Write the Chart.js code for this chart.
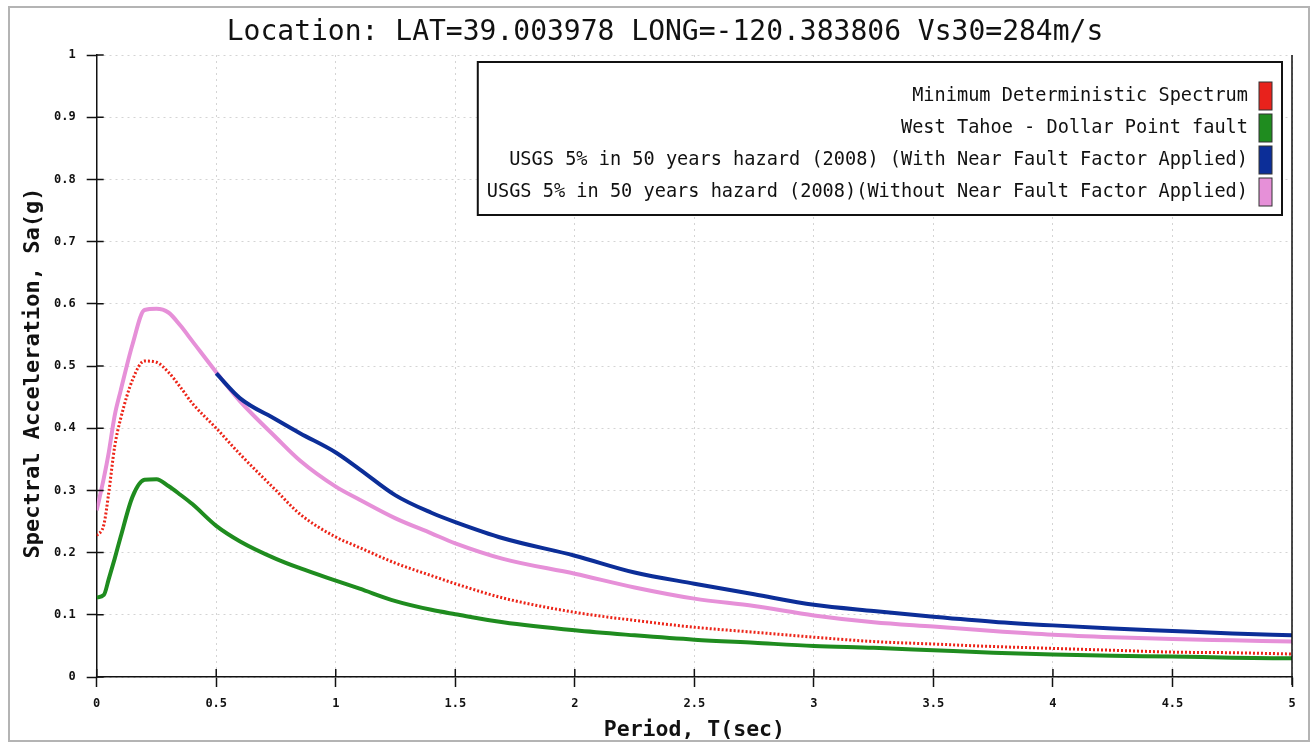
<!DOCTYPE html>
<html>
<head>
<meta charset="utf-8">
<title>Spectral acceleration</title>
<script src="https://cdn.jsdelivr.net/npm/chart.js@4.4.1/dist/chart.umd.min.js"></script>
<style>
  html, body { margin:0; padding:0; background:#fff; }
  #wrap { position:relative; width:1315px; height:747px; }
  #frame { position:absolute; left:8px; top:6px; width:1298px; height:732px; border:2px solid #b4b4b4; pointer-events:none; }
</style>
</head>
<body>
<div id="wrap">
  <canvas id="chart" width="1315" height="747"></canvas>
  <div id="frame"></div>
</div>
<script>
const TITLE = 'Location: LAT=39.003978 LONG=-120.383806 Vs30=284m/s';
const X_TITLE = 'Period, T(sec)';
const Y_TITLE = 'Spectral Acceleration, Sa(g)';

const PERIODS = [0, 0.03, 0.05, 0.075, 0.1, 0.15, 0.2, 0.25, 0.3, 0.35, 0.4, 0.5, 0.6, 0.75, 0.85, 1.0, 1.1, 1.25, 1.4, 1.5, 1.7, 2.0, 2.25, 2.5, 2.75, 3.0, 3.25, 3.5, 3.75, 4.0, 4.25, 4.5, 4.75, 5.0];

const MIN_DETERMINISTIC = [0.227, 0.245, 0.295, 0.37, 0.415, 0.478, 0.508, 0.506, 0.49, 0.466, 0.44, 0.40, 0.358, 0.30, 0.262, 0.225, 0.208, 0.183, 0.163, 0.15, 0.127, 0.104, 0.091, 0.08, 0.072, 0.064, 0.057, 0.053, 0.049, 0.046, 0.043, 0.04, 0.039, 0.037];
const WEST_TAHOE = [0.128, 0.132, 0.157, 0.19, 0.225, 0.29, 0.317, 0.318, 0.307, 0.293, 0.278, 0.243, 0.218, 0.19, 0.175, 0.155, 0.142, 0.122, 0.108, 0.101, 0.088, 0.075, 0.067, 0.06, 0.055, 0.05, 0.047, 0.043, 0.039, 0.036, 0.034, 0.033, 0.031, 0.03];
const USGS_WITH_NFF = [null, null, null, null, null, null, null, null, null, null, null, 0.488, 0.448, 0.414, 0.392, 0.361, 0.334, 0.292, 0.264, 0.249, 0.223, 0.195, 0.168, 0.15, 0.133, 0.116, 0.106, 0.097, 0.089, 0.083, 0.078, 0.074, 0.07, 0.067];
const USGS_WITHOUT_NFF = [0.268, 0.32, 0.36, 0.42, 0.46, 0.535, 0.59, 0.592, 0.586, 0.565, 0.54, 0.49, 0.443, 0.385, 0.348, 0.306, 0.285, 0.255, 0.231, 0.215, 0.19, 0.166, 0.144, 0.126, 0.114, 0.099, 0.088, 0.081, 0.074, 0.068, 0.064, 0.061, 0.059, 0.057];

const SERIES_LABELS = [
  'Minimum Deterministic Spectrum',
  'West Tahoe - Dollar Point fault',
  'USGS 5% in 50 years hazard (2008) (With Near Fault Factor Applied)',
  'USGS 5% in 50 years hazard (2008)(Without Near Fault Factor Applied)'
];

const MONO = "'DejaVu Sans Mono', 'Liberation Mono', monospace";
const RED = '#ec2418', GREEN = '#1f8c1f', BLUE = '#0c2e98', PINK = '#e690d8';

const pts = vals => PERIODS.map((t, i) => ({ x: t, y: vals[i] }));
const fmt = v => String(+v.toFixed(1));

// chart title and y-axis title, both centred on the picture rather than on the plot
const titles = {
  id: 'titles',
  afterDraw(chart){
    const { ctx } = chart;
    ctx.save();
    ctx.fillStyle = '#111';
    ctx.textAlign = 'center'; ctx.textBaseline = 'middle';
    ctx.font = '28px ' + MONO;
    ctx.fillText(TITLE, 665, 33);
    ctx.translate(33, 373);
    ctx.rotate(-Math.PI / 2);
    ctx.font = 'bold 22px ' + MONO;
    ctx.fillText(Y_TITLE, 0, 0);
    ctx.restore();
  }
};

// ticks that cross the axis, plus the solid right edge of the plot
const axisMarks = {
  id: 'axisMarks',
  afterDraw(chart){
    const { ctx, chartArea: a, scales: { x, y } } = chart;
    ctx.save();
    ctx.strokeStyle = '#111';
    ctx.lineWidth = 1.5;
    ctx.beginPath();
    x.ticks.forEach(t => { const px = x.getPixelForValue(t.value); ctx.moveTo(px, a.bottom); ctx.lineTo(px, a.bottom - 8); });
    y.ticks.forEach(t => { const py = y.getPixelForValue(t.value); ctx.moveTo(a.left, py); ctx.lineTo(a.left + 7, py); });
    ctx.moveTo(a.right, a.top); ctx.lineTo(a.right, a.bottom + 8);
    ctx.stroke();
    ctx.restore();
  }
};

// legend box: text right-aligned, colour swatch on the right
const boxLegend = {
  id: 'boxLegend',
  afterDraw(chart){
    const { ctx, chartArea: a } = chart;
    const ds = chart.data.datasets;
    ctx.save();
    ctx.font = "18.6px " + MONO;
    const maxW = Math.max(...ds.map(d => ctx.measureText(d.label).width));
    const right = a.right - 10, top = a.top + 7, rowH = 32;
    const boxW = maxW + 9 + 11 + 13 + 10, boxH = ds.length * rowH + 25;
    const left = right - boxW;
    ctx.fillStyle = '#fff';
    ctx.fillRect(left, top, boxW, boxH);
    ctx.strokeStyle = '#111'; ctx.lineWidth = 2;
    ctx.strokeRect(left, top, boxW, boxH);
    ds.forEach((d, i) => {
      const cy = top + 34 + i * rowH;
      ctx.fillStyle = '#111';
      ctx.textAlign = 'right'; ctx.textBaseline = 'middle';
      ctx.fillText(d.label, right - 34, cy);
      ctx.fillStyle = d.swatch;
      ctx.fillRect(right - 23, cy - 14, 13, 28);
      ctx.lineWidth = 1; ctx.strokeStyle = '#333';
      ctx.strokeRect(right - 23, cy - 14, 13, 28);
    });
    ctx.restore();
  }
};

const gridStyle = { color:'#d4d4d4', lineWidth:1, tickLength:10, tickColor:'#111', tickWidth:1.5, tickBorderDash:[] };

new Chart(document.getElementById('chart'), {
  type:'line',
  data:{
    datasets:[
      { label:SERIES_LABELS[0], data:pts(MIN_DETERMINISTIC), borderColor:RED, swatch:'#e8221c', borderWidth:3, borderDash:[2,2] },
      { label:SERIES_LABELS[1], data:pts(WEST_TAHOE), borderColor:GREEN, swatch:GREEN, borderWidth:4 },
      { label:SERIES_LABELS[2], data:pts(USGS_WITH_NFF), borderColor:BLUE, swatch:BLUE, borderWidth:4 },
      { label:SERIES_LABELS[3], data:pts(USGS_WITHOUT_NFF), borderColor:PINK, swatch:PINK, borderWidth:4 }
    ]
  },
  options:{
    responsive:false, animation:false,
    elements:{ point:{ radius:0 }, line:{ cubicInterpolationMode:'monotone', fill:false } },
    layout:{ padding:{ left:10, right:23, top:55, bottom:5 } },
    plugins:{
      legend:{ display:false },
      tooltip:{ enabled:false },
      title:{ display:false }
    },
    scales:{
      x:{
        type:'linear', min:0, max:5,
        ticks:{ stepSize:0.5, color:'#111', padding:10, maxRotation:0, callback:fmt, font:{ family:MONO, size:12, weight:'bold' } },
        grid:gridStyle,
        border:{ color:'#111', width:1.5, dash:[2,4] },
        title:{ display:true, text:X_TITLE, color:'#111', font:{ family:MONO, size:21.5, weight:'bold', lineHeight:1 }, padding:{ top:0, bottom:1 } },
        afterFit: s => { s.height = 65; }
      },
      y:{
        min:0, max:1,
        ticks:{ stepSize:0.1, color:'#111', padding:11, callback:fmt, font:{ family:MONO, size:12, weight:'bold' } },
        grid:gridStyle,
        border:{ color:'#111', width:1.5, dash:[2,4] },
        afterFit: s => { s.width = 86.7; }
      }
    }
  },
  plugins:[axisMarks, boxLegend, titles]
});
</script>
</body>
</html>
